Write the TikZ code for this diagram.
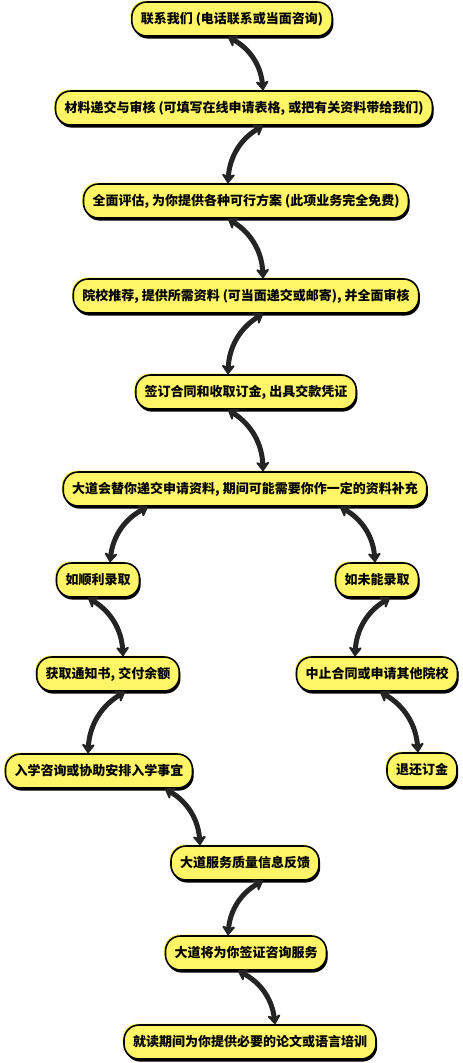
\documentclass[tikz,border=0pt]{standalone}
\usepackage{fontspec}
\setmainfont{Noto Sans CJK SC}
\usetikzlibrary{arrows.meta,shadows}
\definecolor{boxyellow}{RGB}{255,245,102}
\definecolor{inkgray}{RGB}{36,36,36}

\begin{document}
\begin{tikzpicture}[x=1pt, y=1pt, >={Stealth[length=11pt,width=16pt,round]},
	stage/.style={draw=black, line width=1.6pt, fill=boxyellow, rounded corners=15pt,
		minimum height=34pt, inner xsep=9pt, font=\fontsize{13pt}{15pt}\selectfont\bfseries,
		preaction={fill=boxyellow, transform canvas={shift={(-1.5pt,1.5pt)}}},
		drop shadow={shadow xshift=1.2pt, shadow yshift=-2.6pt, fill=black, opacity=1}},
	link/.style={<->, line width=5pt, draw=inkgray, line cap=round}]
	% 1. 画布范围
	\useasboundingbox (0,0) rectangle (463,-1063);
	
	% 2. 流程节点
	\node[stage] (lianxi) at (232,-19) {联系我们 (电话联系或当面咨询)};
	\node[stage] (cailiao) at (244,-108) {材料递交与审核 (可填写在线申请表格, 或把有关资料带给我们)};
	\node[stage] (pinggu) at (246,-201) {全面评估, 为你提供各种可行方案 (此项业务完全免费)};
	\node[stage] (tuijian) at (246,-296) {院校推荐, 提供所需资料 (可当面递交或邮寄), 并全面审核};
	\node[stage] (hetong) at (246,-392) {签订合同和收取订金, 出具交款凭证};
	\node[stage] (dijiao) at (245,-489) {大道会替你递交申请资料, 期间可能需要你作一定的资料补充};
	\node[stage] (luqu) at (98,-580) {如顺利录取};
	\node[stage] (weilu) at (377,-580) {如未能录取};
	\node[stage] (tongzhi) at (108,-674) {获取通知书, 交付余额};
	\node[stage] (zhongzhi) at (377,-674) {中止合同或申请其他院校};
	\node[stage] (ruxue) at (99,-771) {入学咨询或协助安排入学事宜};
	\node[stage] (tuihuan) at (422,-770) {退还订金};
	\node[stage] (fankui) at (245,-863) {大道服务质量信息反馈};
	\node[stage] (qianzheng) at (246,-953) {大道将为你签证咨询服务};
	\node[stage] (peixun) at (250,-1042) {就读期间为你提供必要的论文或语言培训};
	
	% 3. 双向箭头（弯曲）
	\draw[link] ([xshift=-4pt]lianxi.south) to[bend left=28] ([xshift=19pt]cailiao.north);
	\draw[link] ([xshift=19pt]cailiao.south) to[bend right=28] ([xshift=-18pt]pinggu.north);
	\draw[link] ([xshift=-18pt]pinggu.south) to[bend left=28] ([xshift=17pt]tuijian.north);
	\draw[link] ([xshift=17pt]tuijian.south) to[bend right=28] ([xshift=-18pt]hetong.north);
	\draw[link] ([xshift=-18pt]hetong.south) to[bend left=28] ([xshift=18pt]dijiao.north);
	\draw[link] ([xshift=-97pt]dijiao.south) to[bend right=28] ([xshift=12pt]luqu.north);
	\draw[link] ([xshift=95pt]dijiao.south) to[bend left=28] ([xshift=-2pt]weilu.north);
	\draw[link] ([xshift=-10pt]luqu.south) to[bend left=28] ([xshift=15pt]tongzhi.north);
	\draw[link] ([xshift=13pt]weilu.south) to[bend right=28] ([xshift=-22pt]zhongzhi.north);
	\draw[link] ([xshift=17pt]tongzhi.south) to[bend right=28] ([xshift=-11pt]ruxue.north);
	\draw[link] ([xshift=3pt]zhongzhi.south) to[bend left=28] ([xshift=-4pt]tuihuan.north);
	\draw[link] ([xshift=66pt]ruxue.south) to[bend left=28] ([xshift=-45pt]fankui.north);
	\draw[link] ([xshift=18pt]fankui.south) to[bend right=28] ([xshift=-18pt]qianzheng.north);
	\draw[link] ([xshift=-8pt]qianzheng.south) to[bend left=28] ([xshift=25pt]peixun.north);
\end{tikzpicture}
\end{document}
